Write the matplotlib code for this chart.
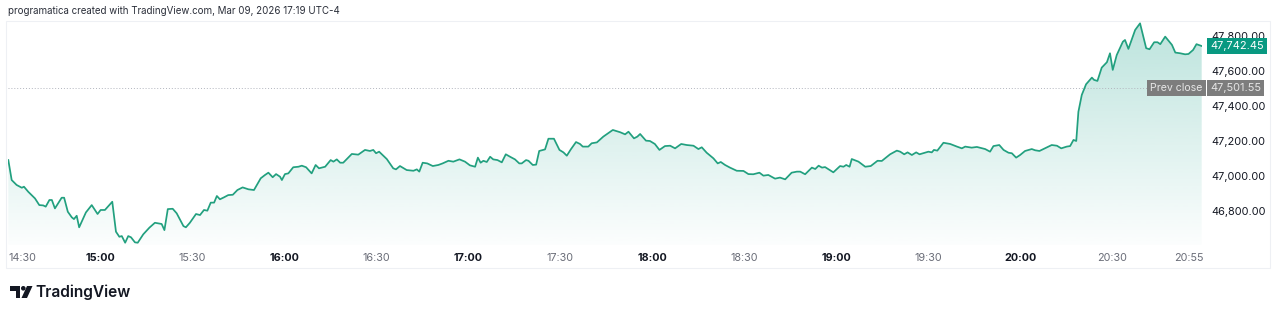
import matplotlib
matplotlib.use("Agg")
import matplotlib.pyplot as plt
import numpy as np
import matplotlib.transforms as mtransforms
from matplotlib.patches import Rectangle, Polygon, Circle

plt.rcParams['font.family'] = ['Inter', 'DejaVu Sans']

# ---------------- data ----------------
# minutes since 14:30 (UTC-4) and price
minutes = [
    0.1, 1.2, 2.8, 4.5, 5.2, 6.6, 8.8, 10.2, 11.5, 12.3,
    13.5, 14.3, 15.3, 17.5, 18.3, 19.5, 20.8, 21.5, 22.4, 23.2,
    25.4, 27.3, 29.2, 30.2, 31.6, 34.0, 35.2, 36.3, 37.1, 38.2,
    39.2, 40.1, 41.4, 42.3, 44.1, 46.1, 47.9, 50.1, 51.0, 52.1,
    53.7, 55.0, 57.2, 58.0, 59.3, 61.3, 62.6, 63.9, 65.0, 66.1,
    67.2, 68.1, 69.1, 70.4, 71.8, 73.3, 74.8, 76.5, 78.4, 80.2,
    82.4, 83.8, 84.9, 86.3, 87.4, 88.7, 89.3, 90.3, 91.4, 93.0,
    94.7, 95.8, 97.2, 99.0, 100.3, 101.4, 103.4, 105.2, 106.1, 107.2,
    108.3, 109.3, 112.1, 114.2, 116.4, 118.0, 119.1, 120.0, 121.0, 123.5,
    125.6, 126.5,
    127.8, 130.0, 132.2, 133.3, 134.1, 135.2, 136.7, 138.5, 140.3, 141.7,
    143.6, 145.2, 147.2, 149.0, 150.6, 152.3, 153.2, 154.1, 155.0, 156.1,
    157.2, 158.2, 159.6, 161.0, 162.3, 163.7, 165.3, 166.7, 167.5, 168.9,
    169.7, 171.1, 172.2, 173.2, 175.1, 176.2, 178.0, 179.8, 181.1, 182.2,
    183.5, 185.2, 186.5, 187.4, 189.2, 190.3, 192.0, 194.1, 197.2, 199.6,
    201.2, 202.3, 204.1, 205.2, 206.1, 208.0, 209.3, 210.9, 212.4, 214.2,
    215.9, 217.5, 219.5, 221.3, 223.5, 225.1, 226.2, 227.8, 230.0, 231.4,
    232.4, 233.8, 235.4, 237.6, 239.8, 241.4, 243.0, 245.0, 246.3, 247.9,
    250.1, 251.7, 253.4, 255.5, 257.2,
    258.3, 259.9, 262.1, 263.2, 264.3, 265.4, 266.4, 269.1, 271.3, 272.4,
    273.3, 274.4, 275.1, 277.3, 279.5, 281.3, 283.5, 284.9, 287.6, 289.8,
    290.9, 292.2, 293.3, 294.7, 296.1, 297.2, 300.1, 301.2, 301.9, 303.0,
    305.0, 307.2, 309.4, 311.0, 312.1, 314.2, 315.9, 318.6, 320.2, 321.3,
    323.2, 324.6, 326.2, 327.3, 328.7, 330.0, 331.6, 333.8, 334.9, 336.3,
    338.1, 340.3, 342.0, 343.4, 345.2, 346.3, 347.4, 348.3, 349.0, 350.1,
    351.5, 353.4, 354.1, 355.2, 356.6, 358.3, 359.3, 360.2, 361.5, 363.5,
    364.2, 365.3, 367.5, 369.1, 371.1, 372.2, 373.7, 374.8, 375.7, 377.3,
    379.5, 380.6, 382.2, 383.8, 384.9, 386.4, 387.5, 389.2,
]
prices = [
    47091, 46977, 46949, 46933, 46939, 46910, 46872, 46834, 46832, 46825,
    46863, 46863, 46815, 46876, 46876, 46796, 46764, 46754, 46773, 46707,
    46792, 46834, 46783, 46806, 46806, 46853, 46682, 46653, 46657, 46619,
    46657, 46650, 46621, 46619, 46667, 46705, 46733, 46726, 46691, 46811,
    46813, 46787, 46714, 46707, 46733, 46783, 46777, 46806, 46802, 46848,
    46848, 46886, 46867, 46878, 46891, 46893, 46920, 46935, 46924, 46920,
    46987, 47006, 47019, 46993, 47011, 46996, 46977, 47011, 47015, 47050,
    47053, 47059, 47050, 47015, 47063, 47044, 47053, 47091, 47082, 47095,
    47076, 47076, 47126, 47122, 47149, 47143, 47149, 47130, 47139, 47097,
    47044, 47038,
    47057, 47034, 47030, 47038, 47025, 47076, 47072, 47057, 47063, 47072,
    47087, 47082, 47095, 47082, 47061, 47053, 47105, 47076, 47087, 47080,
    47110, 47095, 47091, 47078, 47124, 47110, 47095, 47072, 47072, 47091,
    47087, 47063, 47065, 47143, 47152, 47213, 47213, 47149, 47135, 47116,
    47152, 47194, 47183, 47168, 47168, 47187, 47192, 47225, 47263, 47250,
    47238, 47253, 47215, 47225, 47240, 47202, 47200, 47183, 47149, 47171,
    47173, 47158, 47183, 47177, 47173, 47154, 47164, 47133, 47101, 47072,
    47080, 47063, 47048, 47030, 47029, 47011, 47010, 47019, 47002, 47006,
    46985, 46991, 46981, 47019, 47025,
    47025, 47010, 47048, 47040, 47059, 47048, 47051, 47021, 47057, 47053,
    47063, 47053, 47097, 47082, 47053, 47057, 47087, 47086, 47124, 47145,
    47139, 47124, 47135, 47120, 47135, 47124, 47139, 47135, 47149, 47145,
    47190, 47183, 47168, 47158, 47168, 47162, 47166, 47154, 47139, 47171,
    47177, 47149, 47133, 47130, 47105, 47120, 47143, 47154, 47147, 47143,
    47158, 47177, 47173, 47158, 47168, 47171, 47206, 47200, 47367, 47463,
    47524, 47562, 47549, 47543, 47619, 47650, 47701, 47606, 47691, 47767,
    47777, 47726, 47834, 47872, 47730, 47724, 47764, 47764, 47753, 47796,
    47749, 47705, 47701, 47695, 47697, 47720, 47753, 47742.45,
]
prev_close = 47501.55
last_price = 47742.45
y_ticks = [46800, 47000, 47200, 47400, 47600, 47800]
x_tick_minutes = [0, 30, 60, 90, 120, 150, 180, 210, 240, 270, 300, 330, 360, 385]
x_tick_labels = ['14:30', '15:00', '15:30', '16:00', '16:30', '17:00', '17:30',
                 '18:00', '18:30', '19:00', '19:30', '20:00', '20:30', '20:55']
header = "programatica created with TradingView.com, Mar 09, 2026 17:19 UTC-4"

# ---------------- figure ----------------
W, H = 1280, 315
fig = plt.figure(figsize=(W / 100, H / 100), dpi=100)
fig.patch.set_facecolor('white')


def fx(x):
    return x / W


def fy(y):
    return 1 - y / H


# background overlay in pixel coords (border, header, logo)
bg = fig.add_axes([0, 0, 1, 1], zorder=0)
bg.set_xlim(0, W)
bg.set_ylim(H, 0)
bg.axis('off')
bg.add_patch(Rectangle((6, 21), 1264, 247, facecolor='none', edgecolor='#eef0f4', lw=0.8))
bg.text(8, 11.5, header, fontsize=7.0, color='#2a2e39', va='center', ha='left')

# TradingView logo mark
logo_c = '#131722'
bg.add_patch(Polygon([(10, 286), (20, 286), (20, 298), (15.5, 298), (15.5, 290.5), (10, 290.5)],
                     closed=True, color=logo_c, lw=0))
bg.add_patch(Circle((23.3, 288.3), 2.3, color=logo_c, lw=0))
bg.add_patch(Polygon([(27, 286), (32.5, 286), (27, 298), (21.5, 298)], closed=True, color=logo_c, lw=0))
bg.text(35, 292.5, 'TradingView', fontsize=11.2, fontweight='semibold', color=logo_c,
        va='center', ha='left')

ax = fig.add_axes([fx(8), fy(245), fx(1202) - fx(8), fy(20) - fy(245)], zorder=2)
ax.patch.set_alpha(0)
xmin, xmax = 0, 389.3
ymin, ymax = 46606, 47891
ax.set_xlim(xmin, xmax)
ax.set_ylim(ymin, ymax)

line_c = '#22a07f'
# gradient fill
teal = np.array([8, 153, 129]) / 255
top_val = max(prices)
img = np.zeros((256, 1, 4))
img[..., :3] = teal
img[:, 0, 3] = np.linspace(0.015, 0.27, 256)
im = ax.imshow(img, extent=[xmin, xmax, ymin, top_val], origin='lower', aspect='auto',
               zorder=1, interpolation='bilinear')
poly = ax.fill_between(minutes, prices, ymin, facecolor='none', edgecolor='none')
im.set_clip_path(poly.get_paths()[0], transform=ax.transData)
ax.set_xlim(xmin, xmax)
ax.set_ylim(ymin, ymax)

ax.plot(minutes, prices, color=line_c, lw=1.25, zorder=3, solid_joinstyle='round')
ax.axhline(prev_close, color='#b2b5be', lw=0.7, ls=(0, (1, 2)), zorder=2)

for s in ax.spines.values():
    s.set_visible(False)

# y axis on right
ax.yaxis.tick_right()
ax.set_yticks(y_ticks)
ax.set_yticklabels([f"{v:,.2f}" for v in y_ticks])
ax.tick_params(axis='y', length=0, pad=7, labelsize=7.9, labelcolor='#131722')

# x axis
ax.set_xticks(x_tick_minutes)
ax.set_xticklabels(x_tick_labels)
ax.tick_params(axis='x', length=0, pad=5.5, labelsize=7.8)
for lbl, txt in zip(ax.get_xticklabels(), x_tick_labels):
    if txt.endswith(':00'):
        lbl.set_fontweight('bold')
        lbl.set_color('#131722')
    else:
        lbl.set_color('#6a6d78')
ax.get_xticklabels()[0].set_horizontalalignment('left')

# price labels
blend = mtransforms.blended_transform_factory(ax.transAxes, ax.transData)
axw = 1202 - 8
ax.text(1 + 8 / axw, last_price, f"{last_price:,.2f}", transform=blend, ha='left', va='center',
        fontsize=7.9, color='white', zorder=5, clip_on=False,
        bbox=dict(boxstyle='square,pad=0.3', facecolor='#089981', edgecolor='none'))
ax.text(1 + 8 / axw, prev_close, f"{prev_close:,.2f}", transform=blend, ha='left', va='center',
        fontsize=7.9, color='#e6e6e6', zorder=5, clip_on=False,
        bbox=dict(boxstyle='square,pad=0.3', facecolor='#7d7d7d', edgecolor='none'))
ax.text(1 + 0.5 / axw, prev_close, "Prev close", transform=blend, ha='right', va='center',
        fontsize=7.6, color='#e6e6e6', zorder=5, clip_on=False,
        bbox=dict(boxstyle='square,pad=0.3', facecolor='#7d7d7d', edgecolor='none'))

fig.savefig('out.png', dpi=100, facecolor='white')
